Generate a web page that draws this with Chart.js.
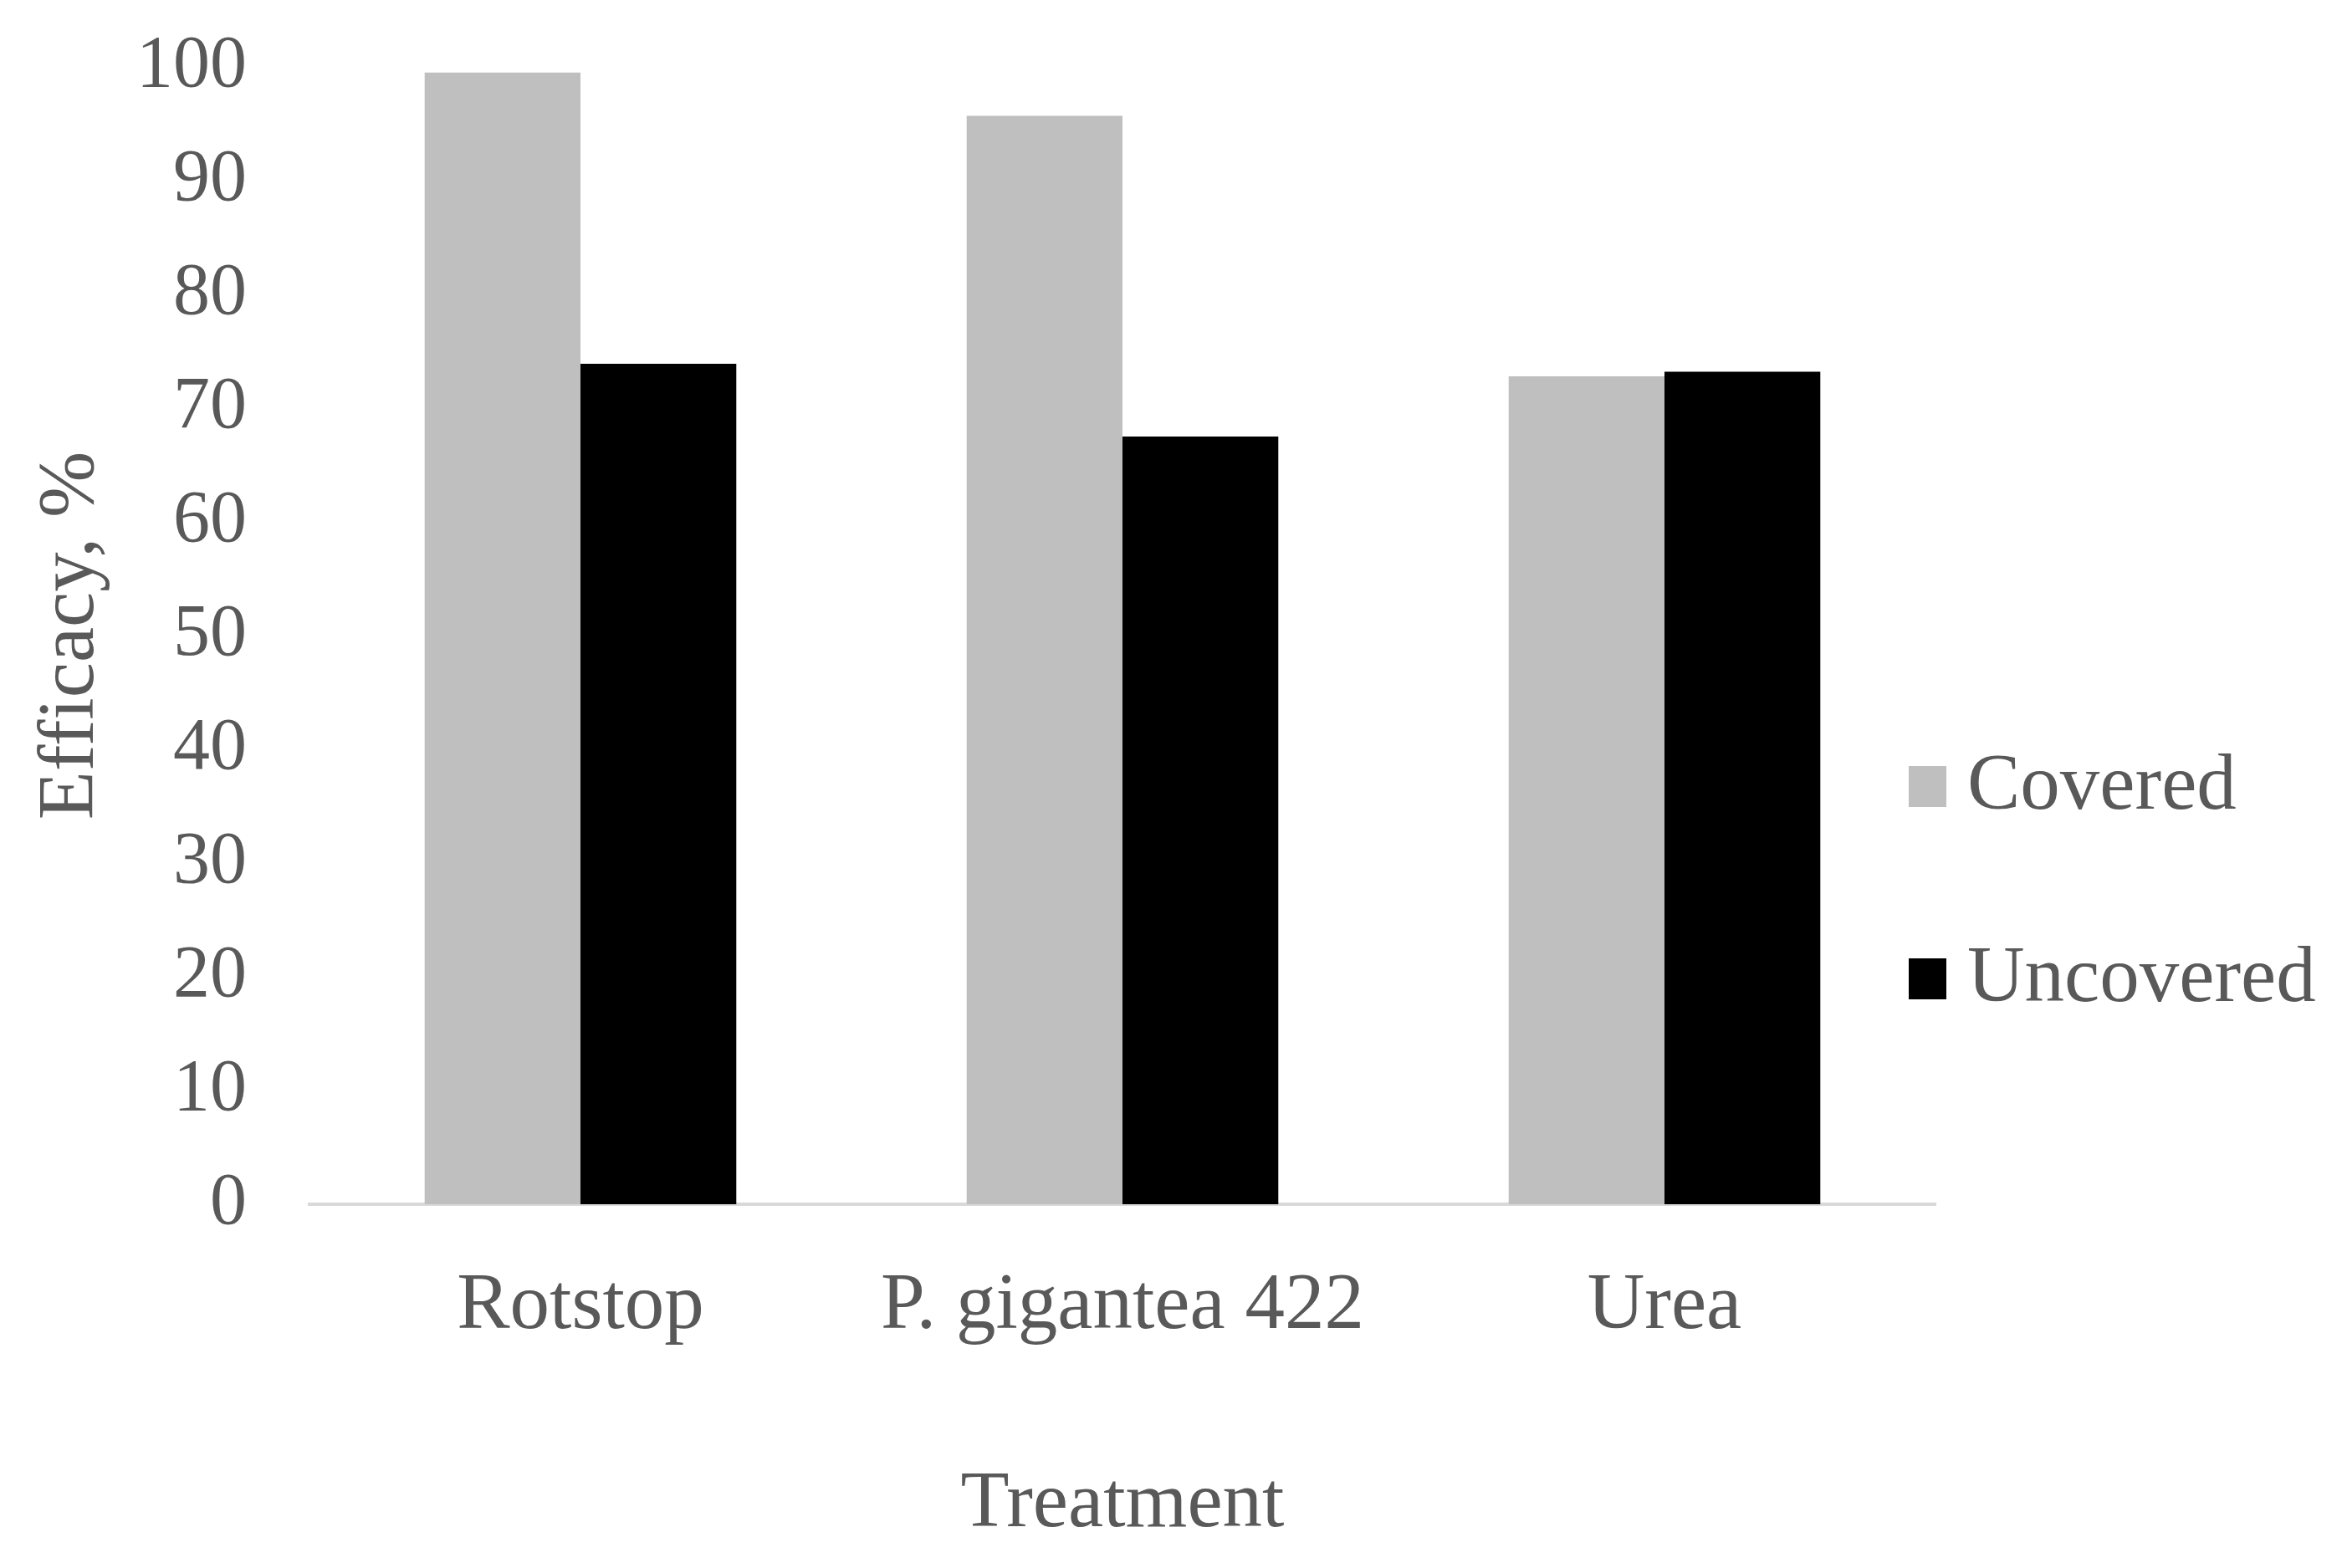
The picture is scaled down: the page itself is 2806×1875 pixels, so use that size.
<!DOCTYPE html>
<html>
<head>
<meta charset="utf-8">
<script src="https://cdn.jsdelivr.net/npm/chart.js@4.4.1/dist/chart.umd.min.js"></script>
<style>
  html, body { margin: 0; padding: 0; background: #fff; }
  #wrap { width: 2806px; height: 1875px; }
</style>
</head>
<body>
<div id="wrap"><canvas id="chart" width="2806" height="1875"></canvas></div>
<script>
const categories = ['Rotstop', 'P. gigantea 422', 'Urea'];
const seriesNames = ['Covered', 'Uncovered'];
const covered = [99.5, 95.7, 72.8];
const uncovered = [73.9, 67.5, 73.2];
const yTicks = [0, 10, 20, 30, 40, 50, 60, 70, 80, 90, 100];

const FONT = 'Liberation Serif, Times New Roman, serif';
const TEXT = '#595959';

// legend drawn by hand so it can sit over the right end of the axis line
const sideLegend = {
  id: 'sideLegend',
  afterDraw(chart) {
    const ctx = chart.ctx;
    const area = chart.chartArea;
    const x = area.right - 32;
    const rows = [940, 1170];
    ctx.save();
    ctx.font = '95px ' + FONT;
    ctx.textBaseline = 'middle';
    ctx.textAlign = 'left';
    chart.data.datasets.forEach((ds, i) => {
      const y = rows[i];
      ctx.fillStyle = ds.backgroundColor;
      ctx.fillRect(x, y - 24, 45, 49);
      ctx.fillStyle = TEXT;
      ctx.fillText(ds.label, x + 70, y + 2);
    });
    ctx.restore();
  }
};

new Chart(document.getElementById('chart'), {
  type: 'bar',
  data: {
    labels: categories,
    datasets: [
      { label: seriesNames[0], data: covered, backgroundColor: '#bfbfbf' },
      { label: seriesNames[1], data: uncovered, backgroundColor: '#000000' }
    ]
  },
  options: {
    responsive: false,
    animation: false,
    devicePixelRatio: 1,
    layout: { padding: { top: 80, right: 492, bottom: 18, left: 29 } },
    datasets: { bar: { categoryPercentage: 0.575, barPercentage: 1.0 } },
    plugins: {
      legend: { display: false },
      tooltip: { enabled: false }
    },
    scales: {
      x: {
        grid: { display: false, drawTicks: false },
        border: { display: true, color: '#d9d9d9', width: 4 },
        ticks: {
          padding: 66,
          color: TEXT,
          font: { family: FONT, size: 95 },
          maxRotation: 0
        },
        title: {
          display: true,
          text: 'Treatment',
          color: TEXT,
          font: { family: FONT, size: 95 },
          padding: { top: 0, bottom: 0 }
        },
        afterFit(axis) { axis.height = 417; }
      },
      y: {
        min: 0,
        max: 100,
        afterBuildTicks(axis) { axis.ticks = yTicks.map(v => ({ value: v })); },
        // tick marks are hidden; their length only pushes the labels left
        grid: { display: false, drawTicks: true, tickLength: 75 },
        border: { display: false },
        ticks: {
          padding: 0,
          color: TEXT,
          font: { family: FONT, size: 88 }
        },
        title: {
          display: true,
          text: 'Efficacy, %',
          color: TEXT,
          font: { family: FONT, size: 95 },
          padding: { top: 0, bottom: 0 }
        },
        afterFit(axis) { axis.width = 341; }
      }
    }
  },
  plugins: [sideLegend]
});
</script>
</body>
</html>
